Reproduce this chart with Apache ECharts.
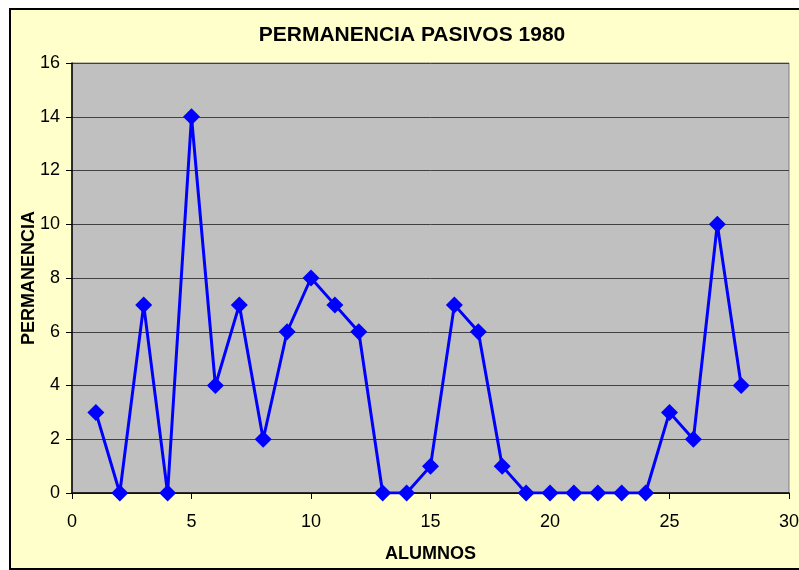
<!DOCTYPE html>
<html>
<head>
<meta charset="utf-8">
<script src="https://cdn.jsdelivr.net/npm/echarts@6/dist/echarts.min.js"></script>
<style>
  html, body { margin: 0; padding: 0; background: #ffffff; }
  #chart { width: 799px; height: 570px; }
</style>
</head>
<body>
<div id="chart"></div>
<script>
// alumnos (x) / permanencia (y)
var alumnos = [1, 2, 3, 4, 5, 6, 7, 8, 9, 10, 11, 12, 13, 14, 15, 16, 17, 18, 19, 20, 21, 22, 23, 24, 25, 26, 27, 28];
var permanencia = [3, 0, 7, 0, 14, 4, 7, 2, 6, 8, 7, 6, 0, 0, 1, 7, 6, 1, 0, 0, 0, 0, 0, 0, 3, 2, 10, 4];

var chart = echarts.init(document.getElementById("chart"));
var font = "Liberation Sans, Arial, sans-serif";

chart.setOption({
  animation: false,
  backgroundColor: "#ffffff",
  graphic: [
    {
      type: "rect",
      z: -10,
      shape: { x: 10, y: 9, width: 790, height: 560 },
      style: { fill: "#FFFFCC", stroke: "#000000", lineWidth: 2 }
    }
  ],
  title: {
    text: "PERMANENCIA PASIVOS 1980",
    left: 407,
    top: 20,
    textAlign: "center",
    textStyle: { fontFamily: font, fontWeight: "bold", fontSize: 21, color: "#000" }
  },
  grid: {
    left: 72,
    top: 63,
    right: 10,
    bottom: 77,
    outerBoundsMode: "none",
    containLabel: false,
    show: true,
    backgroundColor: "#C0C0C0",
    borderColor: "#808080",
    borderWidth: 1
  },
  xAxis: {
    type: "value",
    min: 0,
    max: 30,
    interval: 5,
    name: "ALUMNOS",
    nameLocation: "middle",
    nameGap: 52,
    nameMoveOverlap: false,
    nameTextStyle: { fontFamily: font, fontWeight: "bold", fontSize: 18, color: "#000" },
    axisLine: { lineStyle: { color: "#000", width: 1.5 } },
    axisTick: { show: true, inside: false, length: 6, lineStyle: { color: "#000" } },
    axisLabel: { fontFamily: font, fontSize: 18, color: "#000", margin: 20 },
    splitLine: { show: false }
  },
  yAxis: {
    type: "value",
    min: 0,
    max: 16,
    interval: 2,
    name: "PERMANENCIA",
    nameLocation: "middle",
    nameRotate: 90,
    nameGap: 34,
    nameMoveOverlap: false,
    nameTextStyle: { fontFamily: font, fontWeight: "bold", fontSize: 18, color: "#000" },
    axisLine: { show: true, lineStyle: { color: "#000", width: 1.5 } },
    axisTick: { show: true, inside: false, length: 6, lineStyle: { color: "#000" } },
    axisLabel: { fontFamily: font, fontSize: 18, color: "#000", margin: 12 },
    splitLine: { show: true, lineStyle: { color: "#404040", width: 1 } }
  },
  series: [
    {
      type: "line",
      data: alumnos.map(function (a, i) { return [a, permanencia[i]]; }),
      symbol: "diamond",
      symbolSize: 17,
      itemStyle: { color: "#0000FF" },
      lineStyle: { color: "#0000FF", width: 3 }
    }
  ]
});
</script>
</body>
</html>
